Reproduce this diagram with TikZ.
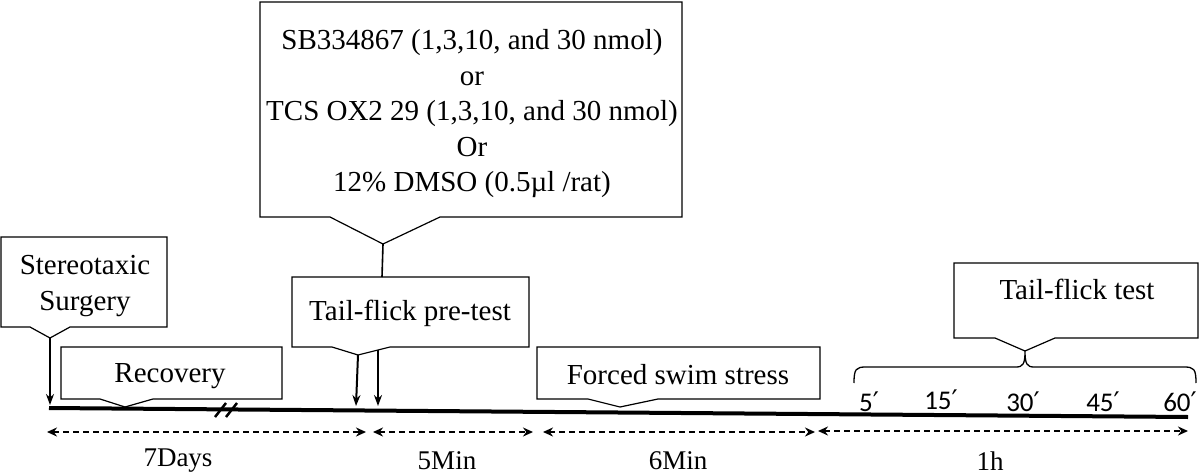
\documentclass[tikz,border=0pt]{standalone}
\usepackage{fontspec}
\setmainfont{Liberation Serif}
\newfontfamily\numfont{Carlito}
\newfontfamily\symfont{DejaVu Sans}
\newcommand{\prm}{{\symfont ′}}
\usetikzlibrary{arrows.meta}
\begin{document}
\begin{tikzpicture}[x=1pt,y=-1pt,
  callout/.style={draw=black,line width=1.2pt,line join=miter},
  txt/.style={font=\fontsize{29}{35.5}\selectfont,align=center,inner sep=0pt},
  num/.style={font=\numfont\fontsize{27}{30}\selectfont,inner sep=0pt},
  timeline/.style={line width=4pt},
  pointarrow/.style={line width=2pt,-{Stealth[length=11pt,width=8pt]}},
  span/.style={line width=2pt,dash pattern=on 6pt off 4pt,{Stealth[length=10pt,width=9pt]}-{Stealth[length=10pt,width=9pt]}},
  lab/.style={font=\fontsize{27}{30}\selectfont,inner sep=0pt}]
\useasboundingbox (0,0) rectangle (1200,474);

% Stereotaxic surgery
\coordinate (stxTip) at (50,338);
\coordinate (stxEnd) at (50,405);
\draw[callout] (1,237) -- (167,237) -- (167,327) -- (70,327) -- (stxTip) -- (30,327) -- (1,327) -- cycle;
\node[txt] (stx) at (85,286) {Stereotaxic\\Surgery};
\draw[pointarrow] (stxTip) -- (stxEnd);

% Recovery
\coordinate (recTip) at (125,407);
\draw[callout] (61,347) -- (282,347) -- (282,399) -- (153,399) -- (recTip) -- (100,399) -- (61,399) -- cycle;
\node[txt] (rec) at (170,376) {Recovery};

% Drug box
\coordinate (drugTip) at (383,244);
\draw[callout] (260,2) -- (682,2) -- (682,217) -- (440,217) -- (drugTip) -- (330,217) -- (260,217) -- cycle;
\node[txt] (drug) at (472,114) {SB334867 (1,3,10, and 30 nmol)\\or\\TCS OX2 29 (1,3,10, and 30 nmol)\\Or\\12\% DMSO (0.5µl /rat)};

% Tail-flick pre-test
\coordinate (preTop) at (382,277);
\coordinate (preTip) at (358,355);
\coordinate (preEndA) at (356,406);
\coordinate (preB) at (378,350);
\coordinate (preEndB) at (378,406);
\draw[callout] (292,277) -- (529,277) -- (529,347) -- (390,347) -- (preTip) -- (332,347) -- (292,347) -- cycle;
\node[txt] (pre) at (410,313) {Tail-flick pre-test};
\draw[line width=1.6pt] (drugTip) -- (preTop);
\draw[pointarrow] (preTip) -- (preEndA);
\draw[pointarrow] (preB) -- (preEndB);

% Forced swim stress
\coordinate (fssTip) at (620,407);
\draw[callout] (537,347) -- (820,347) -- (820,399) -- (658,399) -- (fssTip) -- (588,399) -- (537,399) -- cycle;
\node[txt] (fss) at (678,375) {Forced swim stress};

% Tail-flick test
\coordinate (tftTip) at (1025,351);
\draw[callout] (954,263) -- (1198,263) -- (1198,338) -- (1055,338) -- (tftTip) -- (995,338) -- (954,338) -- cycle;
\node[txt] (tft) at (1077,289) {Tail-flick test};

% brace
\coordinate (brL) at (854,383);
\coordinate (brR) at (1196,383);
\draw[line width=1.3pt] (brL) .. controls (854,369) and (856,367) .. (866,367) -- (1016,367)
  .. controls (1023,367) and (1025,364) .. (tftTip)
  .. controls (1025,364) and (1027,367) .. (1034,367) -- (1184,367)
  .. controls (1194,367) and (1196,369) .. (brR);

% timeline
\coordinate (tlS) at (49,408);
\coordinate (tlE) at (1188,417);
\draw[timeline] (tlS) -- (tlE);
\coordinate (s1a) at (215,417); \coordinate (s1b) at (226,403);
\coordinate (s2a) at (226,417); \coordinate (s2b) at (237,403);
\draw[line width=2.5pt] (s1a) -- (s1b);
\draw[line width=2.5pt] (s2a) -- (s2b);

% minute marks
\node[num] (m5) at (869,402) {5\prm};
\node[num] (m15) at (941,400) {15\prm};
\node[num] (m30) at (1023,402) {30\prm};
\node[num] (m45) at (1103,402) {45\prm};
\node[num] (m60) at (1180,402) {60\prm};

% spans
\coordinate (a1) at (47,432); \coordinate (a2) at (366,432);
\coordinate (b1) at (373,432); \coordinate (b2) at (533,432);
\coordinate (c1) at (543,432); \coordinate (c2) at (815,432);
\coordinate (d1) at (818,431); \coordinate (d2) at (1188,431);
\draw[span] (a1) -- (a2);
\draw[span] (b1) -- (b2);
\draw[span] (c1) -- (c2);
\draw[span] (d1) -- (d2);
\node[lab] (l7) at (178,461) {7Days};
\node[lab] (l5) at (447,461) {5Min};
\node[lab] (l6) at (678,461) {6Min};
\node[lab] (l1) at (990,461) {1h};
\end{tikzpicture}
\end{document}
